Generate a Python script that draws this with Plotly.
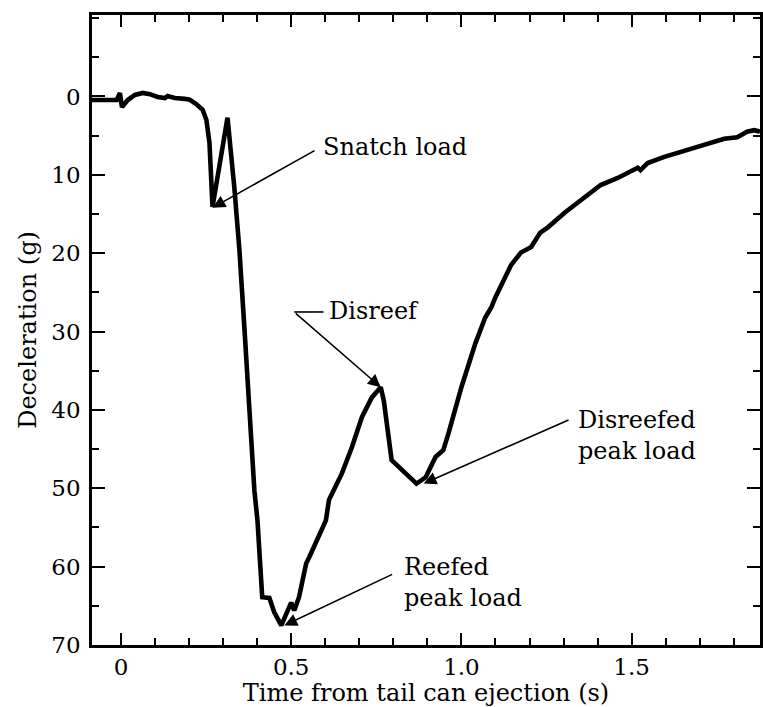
import plotly.graph_objects as go

# time from tail can ejection (s)
time_s = [-0.085, -0.012, -0.003, 0.003, 0.02, 0.041, 0.064, 0.085, 0.108, 0.129, 0.137,
          0.158, 0.187, 0.202, 0.222, 0.240, 0.251, 0.260, 0.269, 0.313, 0.333, 0.339,
          0.348, 0.363, 0.377, 0.392, 0.401, 0.415, 0.436, 0.450, 0.471, 0.488, 0.500,
          0.509, 0.523, 0.544, 0.553, 0.602, 0.611, 0.649, 0.678, 0.708, 0.737, 0.763,
          0.772, 0.795, 0.816, 0.839, 0.868, 0.895, 0.924, 0.947, 0.962, 1.000, 1.041,
          1.070, 1.088, 1.099, 1.129, 1.146, 1.175, 1.205, 1.231, 1.254, 1.304, 1.351,
          1.409, 1.459, 1.518, 1.526, 1.547, 1.596, 1.643, 1.693, 1.743, 1.772, 1.810,
          1.839, 1.860, 1.877]
# deceleration (g)
decel_g = [0.45, 0.45, -0.45, 1.35, 0.45, -0.2, -0.45, -0.3, 0.06, 0.2, -0.05,
           0.2, 0.3, 0.4, 1.0, 1.7, 3.0, 5.9, 14.1, 2.7, 11.6, 14.8,
           19.6, 29.8, 40.0, 50.3, 54.1, 63.9, 64.0, 65.8, 67.5, 65.6, 64.6,
           65.6, 63.9, 59.6, 58.8, 54.1, 51.5, 48.1, 44.8, 40.9, 38.4, 37.1,
           38.8, 46.4, 47.3, 48.1, 49.4, 48.6, 46.0, 45.1, 43.0, 37.1, 31.5,
           28.2, 26.9, 25.7, 23.1, 21.5, 19.9, 19.2, 17.4, 16.7, 14.8, 13.2,
           11.3, 10.4, 9.1, 9.4, 8.5, 7.7, 7.1, 6.4, 5.8, 5.4, 5.2,
           4.5, 4.3, 4.5]

x_tickvals = [0, 0.5, 1.0, 1.5]
x_ticktext = ["0", "0.5", "1.0", "1.5"]
y_tickvals = [0, 10, 20, 30, 40, 50, 60, 70]
y_ticktext = ["0", "10", "20", "30", "40", "50", "60", "70"]

# annotations: label, text position, arrow tail, arrow head
ann_labels = ["Snatch load", "Disreef", "Disreefed<br>peak load", "Reefed<br>peak load"]
ann_text_xy = [(0.588, 6.45), (0.605, 27.4), (1.336, 43.3), (0.825, 62.0)]
ann_tail_xy = [(0.573, 6.8), (0.509, 27.5), (1.319, 41.2), (0.801, 60.9)]
ann_head_xy = [(0.269, 14.2), (0.763, 37.1), (0.889, 49.4), (0.480, 67.5)]

FONT = "DejaVu Serif"
FS = 24
TICK_FS = 23

fig = go.Figure()
fig.add_trace(go.Scatter(x=time_s, y=decel_g, mode="lines",
                         line=dict(color="black", width=4.6), showlegend=False,
                         hoverinfo="skip"))

for lab, (tx, ty), (ax_, ay_), (hx, hy) in zip(ann_labels, ann_text_xy, ann_tail_xy, ann_head_xy):
    fig.add_annotation(x=tx, y=ty, xref="x", yref="y", text=lab, showarrow=False,
                       xanchor="left", yanchor="middle", align="left",
                       font=dict(family=FONT, size=FS, color="black"))
    fig.add_annotation(x=hx, y=hy, ax=ax_, ay=ay_, xref="x", yref="y", axref="x", ayref="y",
                       text="", showarrow=True, arrowhead=2, arrowsize=1.6, arrowwidth=1.6,
                       arrowcolor="black", standoff=0, startstandoff=0)

# little horizontal leader for "Disreef"
fig.add_shape(type="line", xref="x", yref="y", x0=ann_tail_xy[1][0], y0=ann_tail_xy[1][1],
              x1=ann_text_xy[1][0] - 0.01, y1=ann_tail_xy[1][1],
              line=dict(color="black", width=1.6))

axis_common = dict(showgrid=False, zeroline=False, showline=True, linecolor="black",
                   linewidth=2.6, mirror="ticks", ticks="inside", tickcolor="black",
                   tickwidth=2, tickfont=dict(family=FONT, size=TICK_FS, color="black"))

fig.update_xaxes(range=[-0.085, 1.877], tickvals=x_tickvals, ticktext=x_ticktext,
                 ticklen=12,
                 minor=dict(dtick=0.1, tick0=0, ticks="inside", ticklen=7, tickwidth=2,
                            tickcolor="black"),
                 title=dict(text="Time from tail can ejection (s)",
                            font=dict(family=FONT, size=FS, color="black"), standoff=7),
                 **axis_common)
fig.update_yaxes(range=[70, -10.4], tickvals=y_tickvals, ticktext=y_ticktext,
                 ticklen=13,
                 minor=dict(dtick=5, tick0=0, ticks="inside", ticklen=7, tickwidth=2,
                            tickcolor="black"),
                 title=dict(text="Deceleration (g)",
                            font=dict(family=FONT, size=FS, color="black"), standoff=8),
                 ticklabelstandoff=4,
                 **axis_common)

fig.update_layout(width=763, height=707, margin=dict(l=92, r=0, t=15, b=62),
                  plot_bgcolor="white", paper_bgcolor="white",
                  font=dict(family=FONT, color="black"))

fig.write_html("out.html")
